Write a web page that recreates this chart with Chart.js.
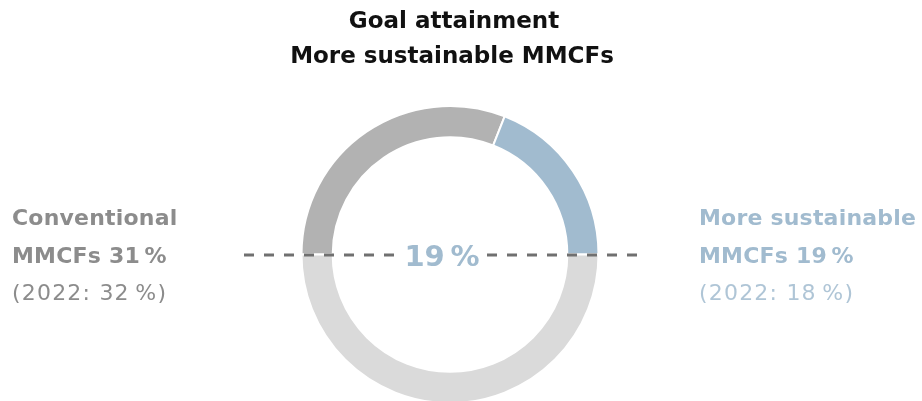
<!DOCTYPE html>
<html>
<head>
<meta charset="utf-8">
<script src="https://cdn.jsdelivr.net/npm/chart.js@4.4.1/dist/chart.umd.min.js"></script>
<style>
  html, body { margin: 0; padding: 0; background: #ffffff; }
  #wrap { position: relative; width: 922px; height: 401px; }
</style>
</head>
<body>
<div id="wrap"><canvas id="c" width="922" height="401"></canvas></div>
<script>
const titleLines = ['Goal attainment', 'More sustainable MMCFs'];
const categories = ['Conventional MMCFs', 'More sustainable MMCFs', 'Goal remainder'];
const values = [31, 19, 50];
const prevYear = '2022';
const prevValues = [32, 18];
const leftLabel = ['Conventional', 'MMCFs'];
const rightLabel = ['More sustainable', 'MMCFs'];
const colors = ['#b2b2b2', '#a1bbcf', '#dadada'];
const textColors = ['#8c8c8c', '#a1bbcf'];

const FONT = '"DejaVu Sans", "Liberation Sans", sans-serif';

const overlay = {
  id: 'overlay',
  afterDatasetsDraw(chart) {
    const ctx = chart.ctx;
    const a = chart.chartArea;
    const cx = (a.left + a.right) / 2;
    const cy = (a.top + a.bottom) / 2;
    ctx.save();
    // dashed reference line
    ctx.strokeStyle = '#707070';
    ctx.lineWidth = 3;
    ctx.setLineDash([10, 10]);
    ctx.beginPath();
    ctx.moveTo(cx - 206, cy + 0.5); ctx.lineTo(cx - 53, cy + 0.5);
    ctx.moveTo(cx + 37, cy + 0.5); ctx.lineTo(cx + 189, cy + 0.5);
    ctx.stroke();
    ctx.setLineDash([]);
    // centre value
    ctx.fillStyle = textColors[1];
    ctx.font = 'bold 29px ' + FONT;
    ctx.textAlign = 'center';
    ctx.textBaseline = 'alphabetic';
    ctx.fillText(values[1] + '\u2009%', cx - 8, cy + 11);
    // title
    ctx.fillStyle = '#111111';
    ctx.font = 'bold 23px ' + FONT;
    ctx.fillText(titleLines[0], cx + 4, 28);
    ctx.fillText(titleLines[1], cx + 2, 63);
    // side labels
    ctx.textAlign = 'left';
    const sides = [
      {x: 12, lines: leftLabel, v: values[0], p: prevValues[0], c: textColors[0], alpha: 1},
      {x: cx + 249, lines: rightLabel, v: values[1], p: prevValues[1], c: textColors[1], alpha: 0.85}
    ];
    sides.forEach(s => {
      ctx.fillStyle = s.c;
      ctx.font = 'bold 22px ' + FONT;
      ctx.letterSpacing = '0.2px';
      ctx.fillText(s.lines[0], s.x, 225);
      ctx.fillText(s.lines[1] + ' ' + s.v + '\u2009%', s.x, 263);
      ctx.globalAlpha = s.alpha;
      ctx.font = '22px ' + FONT;
      ctx.letterSpacing = '1.2px';
      ctx.fillText('(' + prevYear + ': ' + s.p + '\u2009%)', s.x, 300);
      ctx.letterSpacing = '0px';
      ctx.globalAlpha = 1;
    });
    ctx.restore();
  }
};

new Chart(document.getElementById('c'), {
  type: 'doughnut',
  data: {
    labels: categories,
    datasets: [{
      data: values,
      backgroundColor: colors,
      borderColor: '#ffffff',
      borderWidth: 2,
      radius: 148.5,
      clip: false
    }]
  },
  options: {
    responsive: false,
    animation: false,
    events: [],
    rotation: -90,
    circumference: 360,
    cutout: '79%',
    layout: { padding: { left: 0, right: 22, top: 108, bottom: 0 } },
    plugins: { legend: { display: false }, title: { display: false }, tooltip: { enabled: false } }
  },
  plugins: [overlay]
});
</script>
</body>
</html>
